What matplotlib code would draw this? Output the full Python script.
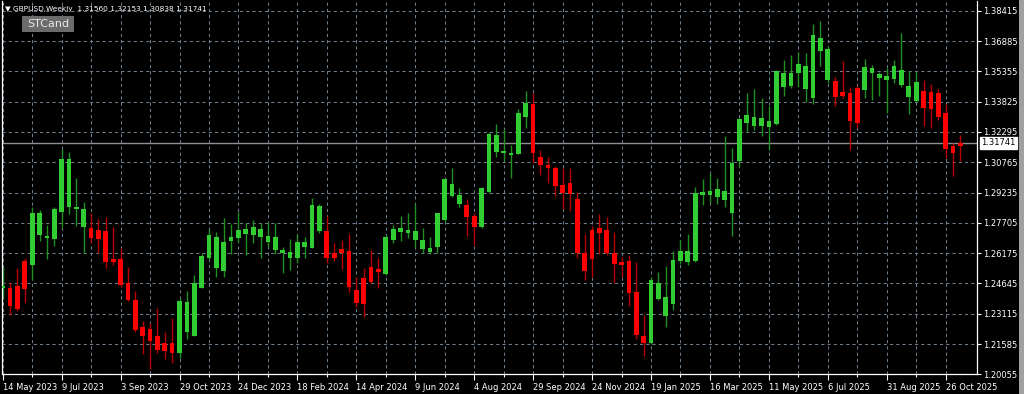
import matplotlib
matplotlib.use('Agg')
import matplotlib.pyplot as plt
from matplotlib.patches import Rectangle
from matplotlib.transforms import blended_transform_factory
import numpy as np
import pandas as pd

'''
    GBPUSD weekly candles, MT4 look (STCand)
'''
symbol = 'GBPUSD,Weekly'
indicator = 'STCand'
first_week = '2023-05-14'

opens = [1.24438, 1.24412, 1.24513, 1.25801, 1.25574, 1.27104, 1.26922, 1.26887, 1.28235, 1.28518,
         1.28402, 1.27493, 1.27427, 1.27341, 1.27291, 1.25902, 1.25902, 1.24680, 1.23807, 1.22458,
         1.22327, 1.22004, 1.21620, 1.21620, 1.21145, 1.22176, 1.22004, 1.24428, 1.25912, 1.25438,
         1.25271, 1.26801, 1.26922, 1.27124, 1.27074, 1.26973, 1.26720, 1.26331, 1.26165, 1.25942,
         1.25942, 1.26498, 1.26447, 1.27291, 1.27291, 1.26165, 1.26367, 1.26281, 1.24311, 1.24917,
         1.25458, 1.25357, 1.25104, 1.26836, 1.27255, 1.27175, 1.26836, 1.26367, 1.26245, 1.26498,
         1.27846, 1.29058, 1.28654, 1.28604, 1.28048, 1.27508, 1.29275, 1.31295, 1.31214, 1.31128,
         1.31179, 1.33032, 1.33704, 1.31042, 1.30623, 1.30457, 1.29613, 1.29699, 1.28907, 1.26165,
         1.27341, 1.27427, 1.27341, 1.26165, 1.25741, 1.25776, 1.24226, 1.21989, 1.21620, 1.23857,
         1.23014, 1.23589, 1.25791, 1.25741, 1.25776, 1.29109, 1.29109, 1.29023, 1.28841, 1.28225,
         1.30841, 1.32729, 1.32593, 1.32593, 1.32557, 1.32694, 1.34577, 1.34612, 1.35254, 1.34461,
         1.33991, 1.36395, 1.34915, 1.34865, 1.34325, 1.34274, 1.34496, 1.34410, 1.35254, 1.35032,
         1.34915, 1.34966, 1.34663, 1.34057, 1.33855, 1.34360, 1.34310, 1.34259, 1.33234, 1.31598,
         1.31560]
highs = [1.25473, 1.24731, 1.25438, 1.25912, 1.28518, 1.28351, 1.27594, 1.28487, 1.31431, 1.31280,
         1.29982, 1.28740, 1.28215, 1.27881, 1.27982, 1.27478, 1.26417, 1.25473, 1.24261, 1.22746,
         1.22630, 1.23387, 1.22176, 1.22882, 1.23892, 1.24276, 1.25069, 1.26165, 1.27377, 1.27240,
         1.27932, 1.27629, 1.28265, 1.27710, 1.27846, 1.27680, 1.27760, 1.27710, 1.26468, 1.26872,
         1.27139, 1.27003, 1.28942, 1.28654, 1.28048, 1.26670, 1.26836, 1.27124, 1.24983, 1.25438,
         1.26331, 1.25912, 1.27089, 1.27594, 1.28048, 1.28184, 1.28654, 1.27427, 1.27003, 1.28200,
         1.29932, 1.30457, 1.29447, 1.28891, 1.28184, 1.29512, 1.32305, 1.32684, 1.32426, 1.31633,
         1.33436, 1.34360, 1.34274, 1.31381, 1.31042, 1.30573, 1.30487, 1.30487, 1.29275, 1.27139,
         1.27543, 1.28134, 1.27982, 1.27255, 1.25993, 1.26079, 1.25741, 1.23049, 1.24983, 1.25236,
         1.25523, 1.26296, 1.26836, 1.27139, 1.29497, 1.29901, 1.30204, 1.29952, 1.32088, 1.31467,
         1.32981, 1.34274, 1.34461, 1.34022, 1.33603, 1.35420, 1.35925, 1.36178, 1.36344, 1.36264,
         1.37743, 1.37895, 1.36632, 1.35052, 1.35890, 1.34547, 1.34612, 1.35976, 1.35673, 1.35335,
         1.35537, 1.35925, 1.37274, 1.35370, 1.35335, 1.34915, 1.34713, 1.34446, 1.33719, 1.31719,
         1.32153]
lows = [1.23908, 1.23034, 1.23251, 1.23640, 1.24816, 1.26801, 1.25862, 1.26533, 1.27508, 1.28134,
        1.27568, 1.26195, 1.26670, 1.26165, 1.25438, 1.25574, 1.24478, 1.23756, 1.22206, 1.21065,
        1.20307, 1.21145, 1.20827, 1.20641, 1.20893, 1.21822, 1.21989, 1.24397, 1.25862, 1.24983,
        1.24983, 1.26114, 1.26750, 1.26094, 1.26670, 1.25942, 1.26498, 1.26129, 1.25155, 1.25321,
        1.25660, 1.25942, 1.26417, 1.27205, 1.25660, 1.25776, 1.25357, 1.24226, 1.23468, 1.22963,
        1.24650, 1.24397, 1.25069, 1.26700, 1.26786, 1.26922, 1.26498, 1.26195, 1.26129, 1.26165,
        1.27760, 1.29023, 1.28518, 1.27038, 1.26584, 1.27427, 1.29194, 1.31042, 1.30825, 1.29982,
        1.31164, 1.32477, 1.30709, 1.30118, 1.29730, 1.29058, 1.28386, 1.28301, 1.25942, 1.24816,
        1.24983, 1.26129, 1.26079, 1.24680, 1.24953, 1.23504, 1.21822, 1.20979, 1.21585, 1.23807,
        1.22458, 1.23302, 1.25624, 1.25574, 1.25741, 1.28604, 1.28705, 1.28669, 1.28503, 1.27053,
        1.30538, 1.32305, 1.32391, 1.32088, 1.31381, 1.32643, 1.34108, 1.34496, 1.34577, 1.33820,
        1.33688, 1.35622, 1.34779, 1.33603, 1.33991, 1.31381, 1.32477, 1.33991, 1.33906, 1.34108,
        1.33234, 1.34749, 1.34577, 1.33199, 1.33820, 1.32593, 1.32477, 1.32896, 1.30962, 1.30083,
        1.30838]
closes = [1.24513, 1.23488, 1.23337, 1.24362, 1.28215, 1.28184, 1.27053, 1.28402, 1.30911, 1.30911,
          1.28487, 1.28402, 1.26937, 1.26887, 1.25725, 1.25725, 1.24549, 1.23807, 1.22292, 1.22004,
          1.21751, 1.21282, 1.21231, 1.21145, 1.23756, 1.23706, 1.24650, 1.26028, 1.27089, 1.27003,
          1.26735, 1.26973, 1.27341, 1.27392, 1.27508, 1.27377, 1.27053, 1.26973, 1.26331, 1.26230,
          1.26735, 1.26735, 1.28604, 1.28553, 1.25942, 1.25942, 1.26165, 1.24448, 1.23670, 1.23605,
          1.24700, 1.25205, 1.27003, 1.27377, 1.27427, 1.27341, 1.27291, 1.26836, 1.26447, 1.28184,
          1.29901, 1.29664, 1.29109, 1.28013, 1.27508, 1.29487, 1.32179, 1.32138, 1.31345, 1.31244,
          1.33234, 1.33739, 1.31214, 1.30623, 1.30457, 1.29563, 1.29194, 1.29159, 1.26165, 1.25286,
          1.25862, 1.27205, 1.26165, 1.25624, 1.25574, 1.24175, 1.22039, 1.21620, 1.24816, 1.24680,
          1.23973, 1.25826, 1.26296, 1.26296, 1.29225, 1.29275, 1.29326, 1.29396, 1.29326, 1.30740,
          1.32946, 1.33148, 1.33062, 1.33012, 1.32845, 1.35370, 1.35254, 1.35284, 1.35708, 1.35622,
          1.37188, 1.37051, 1.36481, 1.34072, 1.34108, 1.32845, 1.32729, 1.35557, 1.35537, 1.35203,
          1.35117, 1.35622, 1.35420, 1.34612, 1.34830, 1.33527, 1.33436, 1.33062, 1.31416, 1.31244,
          1.31741]

price_ticks = [1.20055, 1.21585, 1.23115, 1.24645, 1.26175, 1.27705, 1.29235,
               1.30765, 1.32295, 1.33825, 1.35355, 1.36885, 1.38415]

# ---- colours -------------------------------------------------------------
BG = '#000000'
GRID = '#6f7e8e'
BULL_BODY, BULL_WICK = '#32cd32', '#1f8f1f'
BEAR_BODY, BEAR_WICK = '#ff0000', '#b80000'

W, H = 1024, 394
fig = plt.figure(figsize=(W / 100, H / 100), dpi=100, facecolor=BG)
ax = fig.add_axes([2 / W, (H - 374.3) / H, 975 / W, 373.3 / H], facecolor=BG)

n = len(opens)
x = np.arange(n)
o = np.array(opens)
h = np.array(highs)
l = np.array(lows)
c = np.array(closes)
dates = pd.date_range(first_week, periods=n, freq='7D')

bar_px = 7.367
ax.set_xlim(-0.7 / bar_px, 974.3 / bar_px)
ax.set_ylim(1.20055, 1.38905)

# dashed grid
for xi in range(0, n, 4):
    ax.axvline(xi, color=GRID, lw=0.75, ls=(0, (3, 3)), zorder=1)
for p in price_ticks:
    ax.axhline(p, color=GRID, lw=0.75, ls=(0, (3, 3)), zorder=1)

# bid line
ax.axhline(c[-1], color='#8c9096', lw=1.0, zorder=1.5)

up = c > o
up[-1] = False  # live bar is painted red by the indicator
wick_cols = np.where(up, BULL_WICK, BEAR_WICK)
body_cols = np.where(up, BULL_BODY, BEAR_BODY)
ax.vlines(x, l, h, colors=wick_cols, lw=1.0, zorder=2)
body_lo = np.minimum(o, c)
body_h = np.maximum(np.abs(c - o), 0.0009)
ax.bar(x, body_h, bottom=body_lo, width=0.64, color=body_cols, linewidth=0, zorder=3)

# frame
for s in ['left', 'right', 'bottom']:
    ax.spines[s].set_color('white')
    ax.spines[s].set_linewidth(0.9)
ax.spines['top'].set_visible(False)

# price scale
ax.yaxis.tick_right()
ax.set_yticks(price_ticks)
ax.set_yticklabels(['%.5f' % p for p in price_ticks])
ax.tick_params(axis='y', colors='white', labelsize=6, length=3, width=0.8, pad=1.5)

# time scale
major = list(range(0, n, 8))
ax.set_xticks(major)
ax.set_xticklabels([dates[i].strftime('%d %b %Y').lstrip('0') for i in major], ha='left')
ax.set_xticks(list(range(4, n, 8)), minor=True)
ax.tick_params(axis='x', which='major', colors='white', labelsize=6, length=4, width=0.8, pad=2)
ax.tick_params(axis='x', which='minor', colors='white', length=2, width=0.8)

# current price tag
tr = blended_transform_factory(ax.transAxes, ax.transData)
ax.text(1.004, c[-1], '%.5f' % c[-1], transform=tr, fontsize=6, color='black',
        va='center', ha='left', clip_on=False,
        bbox=dict(boxstyle='square,pad=0.15', fc='white', ec='white'))

# header + indicator tag
hdr = '\u25bc %s  %.5f %.5f %.5f %.5f' % (symbol, o[-1], h[-1], l[-1], c[-1])
fig.text(5 / W, 1 - 8.5 / H, hdr, fontsize=5.3, color='white', va='center', ha='left')
fig.patches.append(Rectangle((22 / W, 1 - 32 / H), 52 / W, 16 / H, transform=fig.transFigure,
                             fc='#6b6b6b', ec='none', zorder=5))
fig.text(48 / W, 1 - 24 / H, indicator, fontsize=8, color='#e6e6e6', va='center', ha='center', zorder=6)

# scrollbar strip on the far right
fig.patches.append(Rectangle((1019 / W, 0), 5 / W, 1, transform=fig.transFigure,
                             fc='#a0a0a0', ec='none'))

fig.savefig('out.png', dpi=100, facecolor=BG)
